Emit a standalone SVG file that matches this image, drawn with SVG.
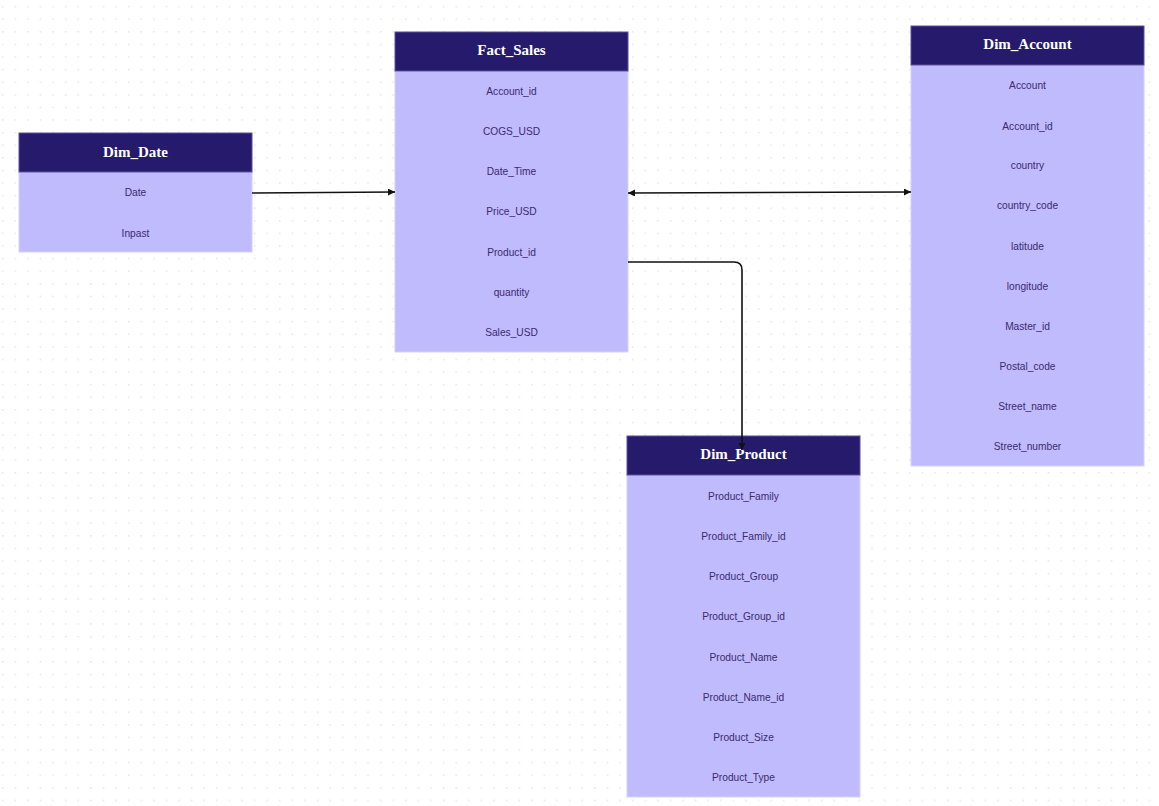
<svg xmlns="http://www.w3.org/2000/svg" width="1159" height="806" viewBox="0 0 1159 806">
<defs>
<pattern id="dots" x="0" y="0" width="12.6" height="12.6" patternUnits="userSpaceOnUse">
<rect x="1.8" y="5.8" width="1.6" height="1.6" fill="#e6e6e6"/>
</pattern>
<marker id="arr" viewBox="0 0 10 10" refX="10" refY="5" markerWidth="7" markerHeight="7" orient="auto-start-reverse" markerUnits="userSpaceOnUse">
<path d="M0,0 L10,5 L0,10 z" fill="#111"/>
</marker>
<style>
.hdr{fill:#261a6d;stroke:#5a4f9a;stroke-width:1}
.body{fill:#c0bbfd;stroke:#d4d0ff;stroke-width:1}
.title{font-family:"Liberation Serif","DejaVu Serif",serif;font-weight:bold;font-size:15px;fill:#ffffff;text-anchor:middle}
.row{font-family:"Liberation Sans","DejaVu Sans",sans-serif;font-size:10.2px;fill:#3b2a6e;text-anchor:middle}
.conn{fill:none;stroke:#111;stroke-width:1.6}
</style>
</defs>
<rect width="1159" height="806" fill="#ffffff"/>
<rect width="1159" height="806" fill="url(#dots)"/>

<g id="Dim_Date">
<rect class="body" x="19" y="172" width="233" height="80"/>
<rect class="hdr" x="19" y="133" width="233" height="39"/>
<text class="title" x="135.5" y="157">Dim_Date</text>
<text class="row" x="135.5" y="196">Date</text>
<text class="row" x="135.5" y="237">Inpast</text>
</g>

<g id="Fact_Sales">
<rect class="body" x="395" y="71" width="233" height="281"/>
<rect class="hdr" x="395" y="32" width="233" height="39"/>
<text class="title" x="511.5" y="55">Fact_Sales</text>
<text class="row" x="511.5" y="95">Account_id</text>
<text class="row" x="511.5" y="135">COGS_USD</text>
<text class="row" x="511.5" y="175">Date_Time</text>
<text class="row" x="511.5" y="215">Price_USD</text>
<text class="row" x="511.5" y="256">Product_id</text>
<text class="row" x="511.5" y="296">quantity</text>
<text class="row" x="511.5" y="336">Sales_USD</text>
</g>

<g id="Dim_Account">
<rect class="body" x="911" y="65" width="233" height="401"/>
<rect class="hdr" x="911" y="26" width="233" height="39"/>
<text class="title" x="1027.5" y="49">Dim_Account</text>
<text class="row" x="1027.5" y="89">Account</text>
<text class="row" x="1027.5" y="130">Account_id</text>
<text class="row" x="1027.5" y="169">country</text>
<text class="row" x="1027.5" y="209">country_code</text>
<text class="row" x="1027.5" y="250">latitude</text>
<text class="row" x="1027.5" y="290">longitude</text>
<text class="row" x="1027.5" y="330">Master_id</text>
<text class="row" x="1027.5" y="370">Postal_code</text>
<text class="row" x="1027.5" y="410">Street_name</text>
<text class="row" x="1027.5" y="450">Street_number</text>
</g>

<g id="Dim_Product">
<rect class="body" x="627" y="475" width="233" height="322"/>
<rect class="hdr" x="627" y="436" width="233" height="39"/>
<text class="title" x="743.5" y="459">Dim_Product</text>
<text class="row" x="743.5" y="500">Product_Family</text>
<text class="row" x="743.5" y="540">Product_Family_id</text>
<text class="row" x="743.5" y="580">Product_Group</text>
<text class="row" x="743.5" y="620">Product_Group_id</text>
<text class="row" x="743.5" y="661">Product_Name</text>
<text class="row" x="743.5" y="701">Product_Name_id</text>
<text class="row" x="743.5" y="741">Product_Size</text>
<text class="row" x="743.5" y="781">Product_Type</text>
</g>

<g id="connectors">
<path class="conn" d="M252,193 L395,192" marker-end="url(#arr)"/>
<path class="conn" d="M628,193 L911,192" marker-start="url(#arr)" marker-end="url(#arr)"/>
<path class="conn" d="M628,262 L734,262 Q742,262 742,270 L742,450" marker-end="url(#arr)"/>
</g>
</svg>
